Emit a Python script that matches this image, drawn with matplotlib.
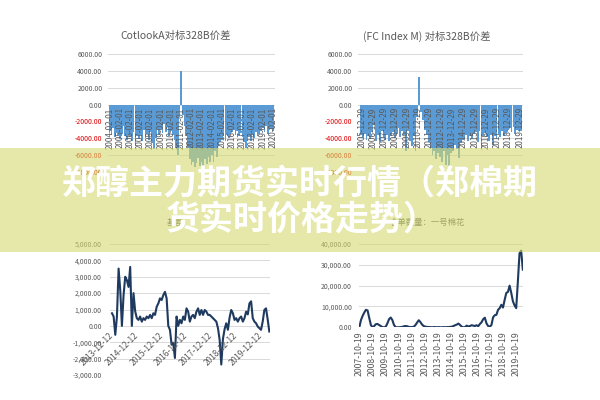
import matplotlib
matplotlib.use('Agg')
import matplotlib.pyplot as plt
import matplotlib.dates as mdates
from matplotlib.patches import Rectangle
import pandas as pd

plt.rcParams['font.family'] = ['Noto Sans CJK SC', 'DejaVu Sans']

# cotlookA vs 328B spread, one value every two months from 2004-02
cotlook_start = '2004-02-01'
cotlook_spread = [
    -3200, -3600, -2800, -3900, -3400, -3700,
    -4100, -3500, -2500, -3800, -4200, -3600,
    -3900, -4300, -3300, -5000, -3700, -4100,
    -3600, -4400, -3000, -4000, -3500, -4200,
    -3300, -4600, -5300, -4000, -3000, -3600,
    -2900, -3400, -2300, -3300, -2700, -3800,
    -3100, -3600, -4200, -5200, -6000, -1500,
    4000, -1200, -2500, -3800, -5200, -6500,
    -7200, -6800, -7500, -7000, -6400, -7300,
    -6800, -7400, -6500, -7100, -6200, -6900,
    -6000, -6800, -5500, -6200, -5000, -4500,
    -4200, -3800, -4400, -3600, -4000, -3500,
    -3300, -3000, -3600, -3200, -3800, -3400,
    -3900, -4500, -5200, -4200, -3800, -4300,
    -3600, -4000, -3300, -3800, -3500, -3100,
    -2800, -3300, -2600, -3500, -3000, -2900,
    -3200,
]
cotlook_ticks = ['2004-02-01', '2005-02-01', '2006-02-01', '2007-02-01', '2008-02-01',
                 '2009-02-01', '2010-02-01', '2011-02-01', '2012-02-01', '2013-02-01',
                 '2014-02-01', '2015-02-01', '2016-02-01', '2017-02-01', '2018-02-01',
                 '2019-02-01', '2020-02-01']

# FC index M vs 328B spread, one value every two months from 2005-12
fc_start = '2005-12-01'
fc_spread = [
    -3600,
    -4000, -3500, -4200, -3800, -4100, -3300,
    -2400, -4300, -3600, -4500, -3200, -3900,
    -4200, -3600, -4400, -3800, -3300, -4000,
    -3500, -2800, -3900, -3100, -3600, -5600,
    -3200, -4400, -5000, -3800, -5500, -1500,
    3300, -900, -1800, -3000, -3600, -4500,
    -5200, -6000, -5500, -6500, -5800, -6200,
    -6800, -5500, -7200, -6000, -7400, -5800,
    -5600, -4800, -5300, -6400, -4600, -4200,
    -4000, -3600, -4400, -3800, -4100, -3500,
    -3300, -4500, -3100, -5300, -3800, -3400,
    -3900, -4400, -3600, -4800, -3700, -4100,
    -3500, -3900, -3200, -3700, -3400, -3000,
    -2800, -3300, -2700, -3500, -3000, -3200,
    -3100,
]
fc_ticks = ['2005-12-29', '2006-12-29', '2007-12-29', '2008-12-29', '2009-12-29',
            '2010-12-29', '2011-12-29', '2012-12-29', '2013-12-29', '2014-12-29',
            '2015-12-29', '2016-12-29', '2017-12-29', '2018-12-29', '2019-12-29']

# basis
basis_start, basis_end = '2013-12-12', '2020-04-10'
basis = [
    770, 570, -545, 570, 3500, 2180, 0, 1880, 3000, 2790,
    2380, 3600, 0, 2000, 900, 470, 365, 570, 260, 470,
    365, 570, 470, 670, 470, 770, 670, 1170, 1370, 1680,
    1580, 1880, 2080, 1680, 0, -240, -1150, -1050, -1960, 570,
    0, 365, 160, 570, 365, 1070, 870, 260, 570, 670,
    470, 870, 1070, 670, 970, 670, 970, 870, 670, 670,
    570, 470, 365, 260, -140, -850, -2360, -800, -200, 160,
    -240, 500, 970, 770, 365, 470, 260, 470, 570, 260,
    470, 870, 700, 1370, 1500, 470, 260, 160, -40, -140,
    -240, 260, 970, 1070, 400, -345,
]
basis_ticks = ['2013-12-12', '2014-12-12', '2015-12-12', '2016-12-12',
               '2017-12-12', '2018-12-12', '2019-12-12']

# warehouse receipts, no.1 cotton
receipts_start, receipts_end = '2007-10-19', '2020-04-10'
receipts = [
    0, 3500, 5500, 7100, 8400, 8100, 4500, 1100, 0, 600,
    1500, 1600, 1100, 600, 100, 0, 300, 1900, 3900, 4700,
    3500, 1100, 100, 0, 0, 100, 200, 500, 600, 500,
    200, 100, 100, 300, 1100, 2300, 3400, 2500, 1300, 600,
    300, 200, 100, 100, 0, 100, 100, 0, 100, 0,
    0, 100, 0, 100, 100, 200, 300, 600, 1000, 1300,
    1800, 1100, 300, 0, 100, 800, 400, 600, 1000, 800,
    600, 1000, 500, 1600, 2400, 3900, 4600, 1900, 600, 300,
    1100, 4800, 5800, 6000, 8400, 9200, 10800, 9500, 13200, 16500,
    17000, 20000, 16500, 12500, 10500, 9200, 22000, 35500, 36800, 27700,
]
receipts_ticks = ['2007-10-19', '2008-10-19', '2009-10-19', '2010-10-19', '2011-10-19',
                  '2012-10-19', '2013-10-19', '2014-10-19', '2015-10-19', '2016-10-19',
                  '2017-10-19', '2018-10-19', '2019-10-19']

GRAY = '#595959'


def px_box(x0, y0, x1, y1):
    # pixel box (600x400 canvas) -> figure fraction
    return [x0 / 600, 1 - y1 / 400, (x1 - x0) / 600, (y1 - y0) / 400]


def style_axes(ax, yticks, fmt, neg_red=False, pad=4):
    for s in ax.spines.values():
        s.set_visible(False)
    ax.set_yticks(yticks)
    ax.set_yticklabels([fmt.format(v) for v in yticks])
    ax.set_ylim(yticks[0], yticks[-1])
    ax.tick_params(axis='y', length=0, labelsize=5, pad=pad, labelcolor=GRAY)
    ax.tick_params(axis='x', length=0)
    ax.grid(axis='y', color='#d9d9d9', linewidth=0.7)
    ax.set_axisbelow(True)
    if neg_red:
        for v, lbl in zip(yticks, ax.get_yticklabels()):
            if v < 0:
                lbl.set_color('#e00000')


def spread_panel(ax, start, values, ticks, xlim):
    dates = pd.date_range(start, periods=len(values), freq='2MS')
    ax.bar(dates, values, width=60, color='#5b9bd5', linewidth=0)
    style_axes(ax, [-8000, -6000, -4000, -2000, 0, 2000, 4000, 6000], '{:.2f}', neg_red=True, pad=4)
    ax.set_xlim(pd.Timestamp(xlim[0]), pd.Timestamp(xlim[1]))
    ax.set_xticks([])
    # date labels sit on the zero line, inside the plot
    for t in ticks:
        ax.annotate(t, (mdates.date2num(pd.Timestamp(t)), 0), xytext=(0, -2),
                    textcoords='offset points', rotation=90, ha='center', va='top',
                    fontsize=5.8, color=GRAY, zorder=4)


fig = plt.figure(figsize=(6, 4), dpi=100)

ax1 = fig.add_axes(px_box(108, 54.3, 275, 171.6))
spread_panel(ax1, cotlook_start, cotlook_spread, cotlook_ticks, ('2003-11-25', '2020-04-15'))
fig.text(176 / 600, 1 - 36 / 400, 'CotlookA对标328B价差', ha='center', va='center',
         fontsize=7.5, color=GRAY)

ax2 = fig.add_axes(px_box(358, 54.3, 523, 171.6))
spread_panel(ax2, fc_start, fc_spread, fc_ticks, ('2005-08-30', '2020-04-05'))
fig.text(427 / 600, 1 - 36 / 400, '(FC Index M) 对标328B价差', ha='center', va='center',
         fontsize=7.5, color=GRAY)

# basis line
ax3 = fig.add_axes(px_box(110, 244, 270, 375))
bdates = pd.date_range(basis_start, basis_end, periods=len(basis))
ax3.plot(bdates, basis, color='#1f3a5f', linewidth=1.5)
style_axes(ax3, [-3000, -2000, -1000, 0, 1000, 2000, 3000, 4000, 5000], '{:,.2f}', pad=6)
ax3.set_xlim(pd.Timestamp('2013-11-13'), pd.Timestamp('2020-04-20'))
ax3.set_xticks([])
for t in basis_ticks:
    ax3.annotate(t, (mdates.date2num(pd.Timestamp(t)), 0), xytext=(0, -6),
                 textcoords='offset points', rotation=45, rotation_mode='anchor',
                 ha='right', va='center', fontsize=6, color=GRAY, zorder=4)
fig.text(175 / 600, 1 - 222 / 400, '基差', ha='center', va='center', fontsize=6, color=GRAY)

# warehouse receipts line
ax4 = fig.add_axes(px_box(359, 244, 523, 327.3))
rdates = pd.date_range(receipts_start, receipts_end, periods=len(receipts))
ax4.plot(rdates, receipts, color='#1f3a5f', linewidth=1.5)
style_axes(ax4, [0, 10000, 20000, 30000, 40000], '{:,.2f}', pad=5)
ax4.set_xlim(pd.Timestamp('2007-10-10'), pd.Timestamp('2020-04-15'))
ax4.set_xticks([pd.Timestamp(t) for t in receipts_ticks])
ax4.set_xticklabels(receipts_ticks, rotation=90, fontsize=6.3, color=GRAY)
ax4.tick_params(axis='x', pad=3)
fig.text(427 / 600, 1 - 222 / 400, '仓单数量：一号棉花', ha='center', va='center',
         fontsize=6, color=GRAY)

# banner over the middle
fig.add_artist(Rectangle((0, 1 - 252 / 400), 1, 104 / 400, transform=fig.transFigure,
                         facecolor='#d4da6e', alpha=0.6, linewidth=0, zorder=5))
fig.text(0.5, 1 - 183 / 400, '郑醇主力期货实时行情（郑棉期', ha='center', va='center',
         fontsize=24.5, fontweight='bold', color='white', zorder=6)
fig.text(302 / 600, 1 - 219 / 400, '货实时价格走势）', ha='center', va='center',
         fontsize=24.5, fontweight='bold', color='white', zorder=6)

fig.savefig('out.png', dpi=100)
